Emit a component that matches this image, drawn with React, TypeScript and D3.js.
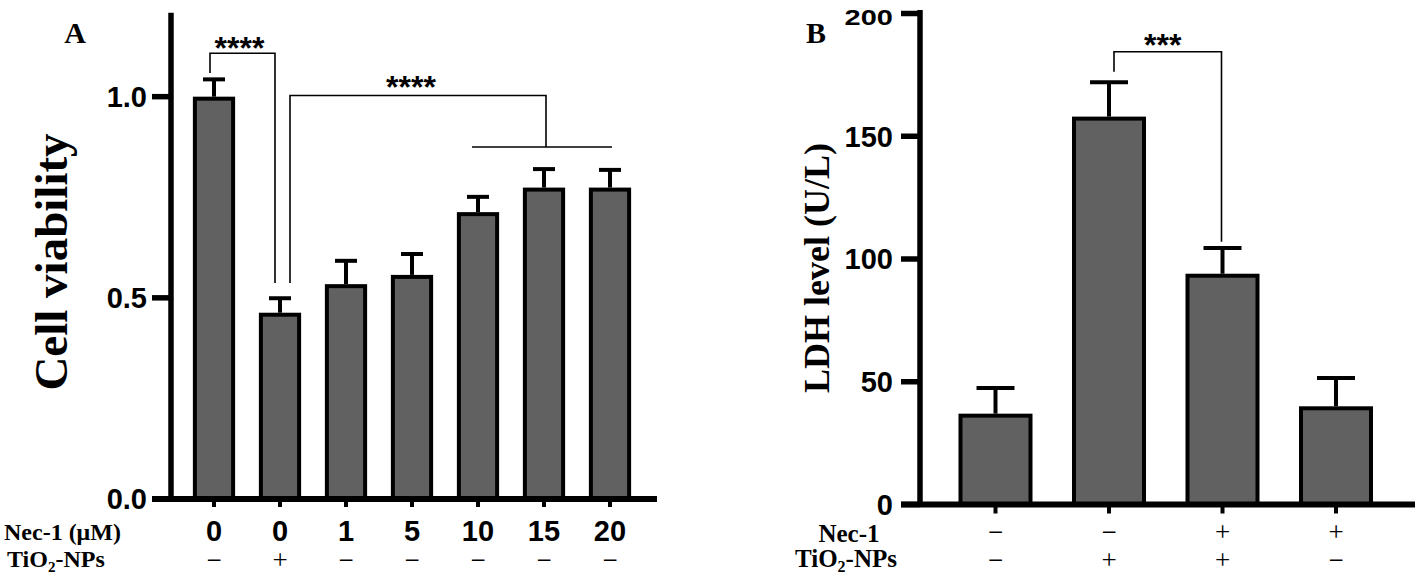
import React from "react";
import * as d3 from "d3";

// Panel A: cell viability
const viabilityDose = ["0", "0", "1", "5", "10", "15", "20"];
const viabilityTiO2 = ["−", "+", "−", "−", "−", "−", "−"];
const viabilityMean = [1.0, 0.463, 0.534, 0.557, 0.713, 0.774, 0.774];
const viabilitySD = [0.043, 0.036, 0.058, 0.052, 0.038, 0.046, 0.044];
const viabilityTicks = [0, 0.5, 1.0];

// Panel B: LDH level
const ldhNec = ["−", "−", "+", "+"];
const ldhTiO2 = ["−", "+", "+", "−"];
const ldhMean = [37, 158, 94, 40];
const ldhSD = [10.5, 14, 10.5, 11.5];
const ldhTicks = [0, 50, 100, 150, 200];

const FILL = "#616161";
const SANS = "'Liberation Sans', Arial, sans-serif";
const SERIF = "'Liberation Serif', 'Times New Roman', serif";

function Bars({ x, y, mean, sd, capW }: any) {
  const y0 = y(0);
  return (
    <g>
      {mean.map((m: number, i: number) => {
        const bx = x(i)!;
        const bw = x.bandwidth();
        const cx = bx + bw / 2;
        const top = y(m);
        const eTop = y(m + sd[i]);
        return (
          <g key={i}>
            <line x1={cx} x2={cx} y1={top} y2={eTop} stroke="#000" strokeWidth={4} />
            <line x1={cx - capW / 2} x2={cx + capW / 2} y1={eTop} y2={eTop} stroke="#000" strokeWidth={4} />
            <rect x={bx + 2} y={top + 2} width={bw - 4} height={y0 - top - 2} fill={FILL} stroke="#000" strokeWidth={4} />
          </g>
        );
      })}
    </g>
  );
}

export default function App() {
  // Panel A scales
  const xA = d3.scaleBand<number>().domain(d3.range(viabilityMean.length)).range([181, 643]).paddingInner(0.36).paddingOuter(0.18);
  const yA = d3.scaleLinear().domain([0, 1.2]).range([499, 16.2]);
  const cA = (i: number) => xA(i)! + xA.bandwidth() / 2;

  // Panel B scales
  const xB = d3.scaleBand<number>().domain(d3.range(ldhMean.length)).range([938.75, 1392.75]).paddingInner(0.348).paddingOuter(0.174);
  const yB = d3.scaleLinear().domain([0, 200]).range([504.5, 13.5]);
  const cB = (i: number) => xB(i)! + xB.bandwidth() / 2;

  const axA = 171;
  const axB = 920;

  // brackets
  const brA1 = { x1: cA(0) - 4, x2: cA(1) - 5, top: yA(1.108), l: yA(1.059), r: yA(0.537) };
  const brA2 = { x1: cA(1) + 10, x2: cA(5) + 2, top: yA(1.003), l: yA(0.537), r: yA(0.875), gx1: cA(4) - 6, gx2: cA(6) + 2 };
  const brB = { x1: cB(1) + 5, x2: cB(2) - 1, top: yB(184.4), l: yB(176.3), r: yB(107) };

  return (
    <svg width={1418} height={578} style={{ display: "block", background: "#fff" }}>
      <style>{`body{margin:0}`}</style>

      {/* ===== Panel A ===== */}
      <text x={75} y={43} fontFamily={SERIF} fontWeight="bold" fontSize={30} textAnchor="middle">A</text>
      <text transform={`translate(67,262) rotate(-90)`} fontFamily={SERIF} fontWeight="bold" fontSize={47} textAnchor="middle">Cell viability</text>

      <Bars x={xA} y={yA} mean={viabilityMean} sd={viabilitySD} capW={22} />

      {/* y axis */}
      <line x1={axA} x2={axA} y1={12.7} y2={502} stroke="#000" strokeWidth={5.5} />
      {viabilityTicks.map((t) => (
        <g key={t}>
          <line x1={152} x2={axA} y1={yA(t)} y2={yA(t)} stroke="#000" strokeWidth={5.5} />
          <text x={147} y={yA(t) + 10.4} textAnchor="end" fontFamily={SANS} fontWeight="bold" fontSize={29}>{t.toFixed(1)}</text>
        </g>
      ))}
      {/* x axis */}
      <line x1={152} x2={657} y1={yA(0)} y2={yA(0)} stroke="#000" strokeWidth={6} />
      {viabilityDose.map((d, i) => (
        <g key={i}>
          <line x1={cA(i)} x2={cA(i)} y1={yA(0)} y2={yA(0) + 8} stroke="#000" strokeWidth={4} />
          <text x={cA(i)} y={541} textAnchor="middle" fontFamily={SANS} fontWeight="bold" fontSize={29}>{d}</text>
          <text x={cA(i)} y={569} textAnchor="middle" fontFamily={SERIF} fontSize={27}>{viabilityTiO2[i]}</text>
        </g>
      ))}
      <text x={4} y={540} fontFamily={SERIF} fontWeight="bold" fontSize={24}>Nec-1 (μM)</text>
      <text x={7} y={567} fontFamily={SERIF} fontWeight="bold" fontSize={24}>
        TiO<tspan fontSize={15} dy={5}>2</tspan><tspan dy={-5}>-NPs</tspan>
      </text>

      {/* significance A */}
      <path d={`M${brA1.x1},${brA1.l}V${brA1.top}H${brA1.x2}V${brA1.r}`} fill="none" stroke="#000" strokeWidth={1.6} />
      <text x={(brA1.x1 + brA1.x2) / 2 - 3} y={brA1.top + 6} textAnchor="middle" fontFamily={SANS} fontWeight="bold" fontSize={32}>****</text>
      <path d={`M${brA2.x1},${brA2.l}V${brA2.top}H${brA2.x2}V${brA2.r}`} fill="none" stroke="#000" strokeWidth={1.6} />
      <line x1={brA2.gx1} x2={brA2.gx2} y1={brA2.r} y2={brA2.r} stroke="#000" strokeWidth={1.6} />
      <text x={(brA2.x1 + brA2.x2) / 2 - 7} y={brA2.top + 3} textAnchor="middle" fontFamily={SANS} fontWeight="bold" fontSize={32}>****</text>

      {/* ===== Panel B ===== */}
      <text x={816} y={43} fontFamily={SERIF} fontWeight="bold" fontSize={30} textAnchor="middle">B</text>
      <text transform={`translate(829,268) rotate(-90)`} fontFamily={SERIF} fontWeight="bold" fontSize={36} textAnchor="middle">LDH level (U/L)</text>

      <Bars x={xB} y={yB} mean={ldhMean} sd={ldhSD} capW={38} />

      <line x1={axB} x2={axB} y1={10} y2={507} stroke="#000" strokeWidth={5.5} />
      {ldhTicks.map((t) => (
        <g key={t}>
          <line x1={901} x2={axB} y1={yB(t)} y2={yB(t)} stroke="#000" strokeWidth={5.5} />
          {t === 200 ? (
            <text transform={`translate(893,${yB(t) + 11}) scale(1,0.78)`} textAnchor="end" fontFamily={SANS} fontWeight="bold" fontSize={29}>{t}</text>
          ) : (
            <text x={893} y={yB(t) + 10.4} textAnchor="end" fontFamily={SANS} fontWeight="bold" fontSize={29}>{t}</text>
          )}
        </g>
      ))}
      <line x1={901} x2={1415} y1={yB(0)} y2={yB(0)} stroke="#000" strokeWidth={6} />
      {ldhNec.map((d, i) => (
        <g key={i}>
          <line x1={cB(i)} x2={cB(i)} y1={yB(0)} y2={yB(0) + 9} stroke="#000" strokeWidth={4} />
          <text x={cB(i)} y={541} textAnchor="middle" fontFamily={SERIF} fontSize={27}>{d}</text>
          <text x={cB(i)} y={569} textAnchor="middle" fontFamily={SERIF} fontSize={27}>{ldhTiO2[i]}</text>
        </g>
      ))}
      <text x={849} y={542} textAnchor="middle" fontFamily={SERIF} fontWeight="bold" fontSize={25}>Nec-1</text>
      <text x={846} y={567} textAnchor="middle" fontFamily={SERIF} fontWeight="bold" fontSize={25}>
        TiO<tspan fontSize={16} dy={5}>2</tspan><tspan dy={-5}>-NPs</tspan>
      </text>

      <path d={`M${brB.x1},${brB.l}V${brB.top}H${brB.x2}V${brB.r}`} fill="none" stroke="#000" strokeWidth={1.6} />
      <text x={(brB.x1 + brB.x2) / 2 - 5} y={brB.top + 4} textAnchor="middle" fontFamily={SANS} fontWeight="bold" fontSize={32}>***</text>
    </svg>
  );
}
